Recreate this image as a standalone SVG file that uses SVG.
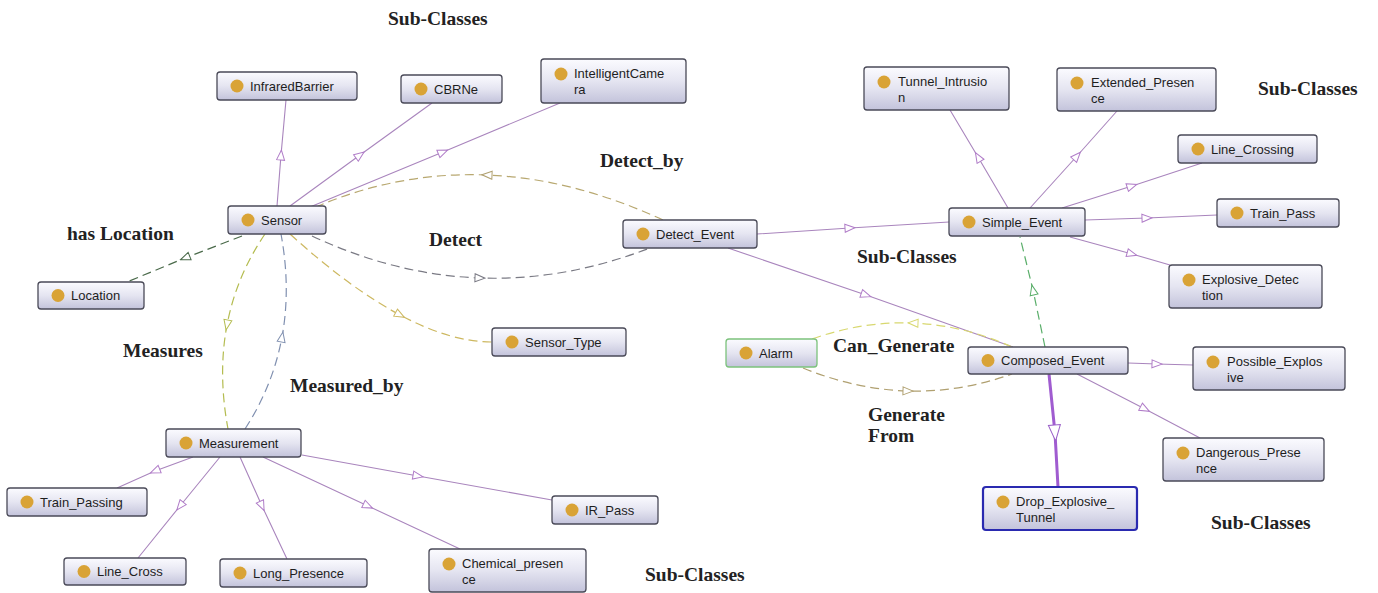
<svg xmlns="http://www.w3.org/2000/svg" width="1378" height="593" viewBox="0 0 1378 593">
<style>
.nb{fill:url(#ng);stroke:#4a4a58;stroke-width:1.3}
.nb.green{stroke:#7cc27c}
.nb.blue{stroke:#2a2ab0;stroke-width:2.2}
.dot{fill:#d9a336}
.nt{font-family:"Liberation Sans",Arial,sans-serif;font-size:13px;fill:#1e1e1e}
.lb{font-family:"Liberation Serif","Times New Roman",serif;font-size:19.5px;font-weight:bold;fill:#222}
.sub{fill:none;stroke:#a985bd;stroke-width:1.1}
.thick{fill:none;stroke:#a05cd0;stroke-width:3}
.d{fill:none;stroke-width:1.2;stroke-dasharray:9 5}
</style>
<defs>
<linearGradient id="ng" x1="0" y1="0" x2="0" y2="1">
<stop offset="0" stop-color="#fbfbff"/>
<stop offset="0.5" stop-color="#e5e5f1"/>
<stop offset="1" stop-color="#c3c3db"/>
</linearGradient>
<marker id="mp" viewBox="0 0 12 10" refX="6" refY="5" markerWidth="12" markerHeight="10" orient="auto" markerUnits="userSpaceOnUse"><path d="M1,1 L11,5 L1,9 Z" fill="#fff" stroke="#b07cc8" stroke-width="1"/></marker>
<marker id="mbig" viewBox="0 0 18 14" refX="9" refY="7" markerWidth="18" markerHeight="14" orient="auto" markerUnits="userSpaceOnUse"><path d="M1,1 L17,7 L1,13 Z" fill="#fff" stroke="#9a60c8" stroke-width="1"/></marker>
<marker id="mdg" viewBox="0 0 12 10" refX="6" refY="5" markerWidth="12" markerHeight="10" orient="auto" markerUnits="userSpaceOnUse"><path d="M1,1 L11,5 L1,9 Z" fill="#fff" stroke="#4a6a4a" stroke-width="1"/></marker>
<marker id="myg" viewBox="0 0 12 10" refX="6" refY="5" markerWidth="12" markerHeight="10" orient="auto" markerUnits="userSpaceOnUse"><path d="M1,1 L11,5 L1,9 Z" fill="#fff" stroke="#b4bc50" stroke-width="1"/></marker>
<marker id="mbg" viewBox="0 0 12 10" refX="6" refY="5" markerWidth="12" markerHeight="10" orient="auto" markerUnits="userSpaceOnUse"><path d="M1,1 L11,5 L1,9 Z" fill="#fff" stroke="#8090b0" stroke-width="1"/></marker>
<marker id="my" viewBox="0 0 12 10" refX="6" refY="5" markerWidth="12" markerHeight="10" orient="auto" markerUnits="userSpaceOnUse"><path d="M1,1 L11,5 L1,9 Z" fill="#fff" stroke="#cdb860" stroke-width="1"/></marker>
<marker id="mg" viewBox="0 0 12 10" refX="6" refY="5" markerWidth="12" markerHeight="10" orient="auto" markerUnits="userSpaceOnUse"><path d="M1,1 L11,5 L1,9 Z" fill="#fff" stroke="#7a7a84" stroke-width="1"/></marker>
<marker id="mo" viewBox="0 0 12 10" refX="6" refY="5" markerWidth="12" markerHeight="10" orient="auto" markerUnits="userSpaceOnUse"><path d="M1,1 L11,5 L1,9 Z" fill="#fff" stroke="#b0a070" stroke-width="1"/></marker>
<marker id="mly" viewBox="0 0 12 10" refX="6" refY="5" markerWidth="12" markerHeight="10" orient="auto" markerUnits="userSpaceOnUse"><path d="M1,1 L11,5 L1,9 Z" fill="#fff" stroke="#d8d870" stroke-width="1"/></marker>
<marker id="mgr" viewBox="0 0 12 10" refX="6" refY="5" markerWidth="12" markerHeight="10" orient="auto" markerUnits="userSpaceOnUse"><path d="M1,1 L11,5 L1,9 Z" fill="#fff" stroke="#5aae6a" stroke-width="1"/></marker>
</defs>
<rect width="1378" height="593" fill="#fff"/>

<g id="connectors">
<!-- Sensor subclasses -->
<polyline class="sub" marker-mid="url(#mp)" points="277,206 281,155 286,100"/>
<polyline class="sub" marker-mid="url(#mp)" points="290,206 360,155 432,103"/>
<polyline class="sub" marker-mid="url(#mp)" points="310,207 443,152 560,103"/>
<!-- Simple_Event subclasses -->
<polyline class="sub" marker-mid="url(#mp)" points="1008,208 978,157 950,110"/>
<polyline class="sub" marker-mid="url(#mp)" points="1030,208 1077,156 1117,111"/>
<polyline class="sub" marker-mid="url(#mp)" points="1062,208 1132,186 1202,163"/>
<polyline class="sub" marker-mid="url(#mp)" points="1085,220 1147,218 1217,215"/>
<polyline class="sub" marker-mid="url(#mp)" points="1070,237 1132,254 1170,265"/>
<!-- Detect_Event -->
<polyline class="sub" marker-mid="url(#mp)" points="757,234 850,228 949,222"/>
<polyline class="sub" marker-mid="url(#mp)" points="728,248 866,295 1013,347"/>
<!-- Composed_Event subclasses -->
<polyline class="sub" marker-mid="url(#mp)" points="1128,363 1157,364 1193,365"/>
<polyline class="sub" marker-mid="url(#mp)" points="1077,374 1145,409 1200,438"/>
<polyline class="thick" marker-mid="url(#mbig)" points="1049,374 1055,433 1058,487"/>
<!-- Simple_Event - Composed_Event -->
<polyline class="d" stroke="#5aae6a" marker-mid="url(#mgr)" points="1045,347 1033,290 1020,237"/>
<!-- Measurement subclasses -->
<polyline class="sub" marker-mid="url(#mp)" points="193,457 155,471 117,488"/>
<polyline class="sub" marker-mid="url(#mp)" points="220,457 180,506 138,558"/>
<polyline class="sub" marker-mid="url(#mp)" points="240,457 262,506 287,559"/>
<polyline class="sub" marker-mid="url(#mp)" points="263,457 368,506 460,549"/>
<polyline class="sub" marker-mid="url(#mp)" points="302,455 418,476 552,500"/>
<!-- has Location -->
<polyline class="d" stroke="#4a6a4a" marker-mid="url(#mdg)" points="242,236 185,258 127,282"/>
<!-- Measures -->
<path class="d" stroke="#b4bc50" marker-mid="url(#myg)" d="M265,234 Q236.25,276.25 227,325 Q217.75,373.75 228,429"/>
<!-- Measured_by -->
<path class="d" stroke="#8090b0" marker-mid="url(#mbg)" d="M245,429 Q273,385.75 282,337 Q291,288.25 281,234"/>
<!-- Sensor_Type -->
<path class="d" stroke="#cdb860" marker-mid="url(#my)" d="M290,234 Q349.5,288 400,315 Q450.5,342 492,342"/>
<!-- Detect -->
<path class="d" stroke="#7a7a84" marker-mid="url(#mg)" d="M312,236 Q395.5,275 480,278 Q564.5,281 650,248"/>
<!-- Detect_by -->
<path class="d" stroke="#b8a870" marker-mid="url(#mo)" d="M663,220 Q573.25,178.5 487,175 Q400.75,171.5 318,206"/>
<!-- Can_Generate -->
<path class="d" stroke="#d8d870" marker-mid="url(#mly)" d="M1012,347 Q963,325 913,323 Q863,321 812,339"/>
<!-- Generate From -->
<path class="d" stroke="#b0a070" marker-mid="url(#mo)" d="M803,368 Q855.75,389.5 908,391 Q960.25,392.5 1012,374"/>
</g>

<g id="n-infraredbarrier"><rect class="nb" x="217" y="72" width="140" height="28" rx="3"/><circle class="dot" cx="237" cy="86" r="6.5"/><text class="nt" x="250" y="90.5">InfraredBarrier</text></g>
<g id="n-cbrne"><rect class="nb" x="401" y="75" width="101" height="28" rx="3"/><circle class="dot" cx="421" cy="89" r="6.5"/><text class="nt" x="434" y="93.5">CBRNe</text></g>
<g id="n-intelligentcamera"><rect class="nb" x="541" y="59" width="145" height="44" rx="3"/><circle class="dot" cx="561" cy="74" r="6.5"/><text class="nt" x="574" y="78">IntelligentCame</text><text class="nt" x="574" y="94">ra</text></g>
<g id="n-sensor"><rect class="nb" x="228" y="206" width="98" height="28" rx="3"/><circle class="dot" cx="248" cy="220" r="6.5"/><text class="nt" x="261" y="224.5">Sensor</text></g>
<g id="n-location"><rect class="nb" x="38" y="282" width="106" height="27" rx="3"/><circle class="dot" cx="58" cy="295.5" r="6.5"/><text class="nt" x="71" y="300">Location</text></g>
<g id="n-detect-event"><rect class="nb" x="623" y="220" width="134" height="28" rx="3"/><circle class="dot" cx="643" cy="234" r="6.5"/><text class="nt" x="656" y="238.5">Detect_Event</text></g>
<g id="n-sensor-type"><rect class="nb" x="492" y="328" width="134" height="28" rx="3"/><circle class="dot" cx="512" cy="342" r="6.5"/><text class="nt" x="525" y="346.5">Sensor_Type</text></g>
<g id="n-tunnel-intrusion"><rect class="nb" x="864" y="67" width="145" height="43" rx="3"/><circle class="dot" cx="884" cy="82" r="6.5"/><text class="nt" x="898" y="85.5">Tunnel_Intrusio</text><text class="nt" x="898" y="101.5">n</text></g>
<g id="n-extended-presence"><rect class="nb" x="1057" y="68" width="159" height="43" rx="3"/><circle class="dot" cx="1077" cy="83" r="6.5"/><text class="nt" x="1091" y="86.5">Extended_Presen</text><text class="nt" x="1091" y="102.5">ce</text></g>
<g id="n-line-crossing"><rect class="nb" x="1178" y="135" width="139" height="28" rx="3"/><circle class="dot" cx="1198" cy="149" r="6.5"/><text class="nt" x="1211" y="153.5">Line_Crossing</text></g>
<g id="n-simple-event"><rect class="nb" x="949" y="208" width="136" height="28" rx="3"/><circle class="dot" cx="969" cy="222" r="6.5"/><text class="nt" x="982" y="226.5">Simple_Event</text></g>
<g id="n-train-pass"><rect class="nb" x="1217" y="199" width="122" height="28" rx="3"/><circle class="dot" cx="1237" cy="213" r="6.5"/><text class="nt" x="1250" y="217.5">Train_Pass</text></g>
<g id="n-explosive-detection"><rect class="nb" x="1169" y="265" width="153" height="43" rx="3"/><circle class="dot" cx="1189" cy="280" r="6.5"/><text class="nt" x="1202" y="283.5">Explosive_Detec</text><text class="nt" x="1202" y="299.5">tion</text></g>
<g id="n-alarm"><rect class="nb green" x="726" y="339" width="91" height="28" rx="3"/><circle class="dot" cx="746" cy="353" r="6.5"/><text class="nt" x="759" y="357.5">Alarm</text></g>
<g id="n-composed-event"><rect class="nb" x="968" y="347" width="160" height="27" rx="3"/><circle class="dot" cx="988" cy="360.5" r="6.5"/><text class="nt" x="1001" y="365">Composed_Event</text></g>
<g id="n-possible-explosive"><rect class="nb" x="1193" y="347" width="152" height="43" rx="3"/><circle class="dot" cx="1213" cy="362" r="6.5"/><text class="nt" x="1227" y="365.5">Possible_Explos</text><text class="nt" x="1227" y="381.5">ive</text></g>
<g id="n-dangerous-presence"><rect class="nb" x="1163" y="438" width="161" height="43" rx="3"/><circle class="dot" cx="1183" cy="453" r="6.5"/><text class="nt" x="1196" y="456.5">Dangerous_Prese</text><text class="nt" x="1196" y="472.5">nce</text></g>
<g id="n-drop-explosive-tunnel"><rect class="nb blue" x="983" y="487" width="154" height="43" rx="3"/><circle class="dot" cx="1003" cy="502" r="6.5"/><text class="nt" x="1016" y="505.5">Drop_Explosive_</text><text class="nt" x="1016" y="521.5">Tunnel</text></g>
<g id="n-measurement"><rect class="nb" x="166" y="429" width="135" height="28" rx="3"/><circle class="dot" cx="186" cy="443" r="6.5"/><text class="nt" x="199" y="447.5">Measurement</text></g>
<g id="n-train-passing"><rect class="nb" x="7" y="488" width="140" height="28" rx="3"/><circle class="dot" cx="27" cy="502" r="6.5"/><text class="nt" x="40" y="506.5">Train_Passing</text></g>
<g id="n-line-cross"><rect class="nb" x="64" y="558" width="122" height="27" rx="3"/><circle class="dot" cx="84" cy="571.5" r="6.5"/><text class="nt" x="97" y="576">Line_Cross</text></g>
<g id="n-long-presence"><rect class="nb" x="220" y="559" width="147" height="28" rx="3"/><circle class="dot" cx="240" cy="573" r="6.5"/><text class="nt" x="253" y="577.5">Long_Presence</text></g>
<g id="n-chemical-presence"><rect class="nb" x="429" y="549" width="157" height="43" rx="3"/><circle class="dot" cx="449" cy="564" r="6.5"/><text class="nt" x="462" y="567.5">Chemical_presen</text><text class="nt" x="462" y="583.5">ce</text></g>
<g id="n-ir-pass"><rect class="nb" x="552" y="496" width="106" height="28" rx="3"/><circle class="dot" cx="572" cy="510" r="6.5"/><text class="nt" x="585" y="514.5">IR_Pass</text></g>

<g id="labels">
<text class="lb" x="388" y="25">Sub-Classes</text>
<text class="lb" x="1258" y="95">Sub-Classes</text>
<text class="lb" x="600" y="167">Detect_by</text>
<text class="lb" x="67" y="240">has Location</text>
<text class="lb" x="429" y="246">Detect</text>
<text class="lb" x="857" y="263">Sub-Classes</text>
<text class="lb" x="123" y="357">Measures</text>
<text class="lb" x="833" y="352">Can_Generate</text>
<text class="lb" x="290" y="392">Measured_by</text>
<text class="lb" x="868" y="421">Generate</text>
<text class="lb" x="868" y="442">From</text>
<text class="lb" x="1211" y="529">Sub-Classes</text>
<text class="lb" x="645" y="581">Sub-Classes</text>
</g>
</svg>
